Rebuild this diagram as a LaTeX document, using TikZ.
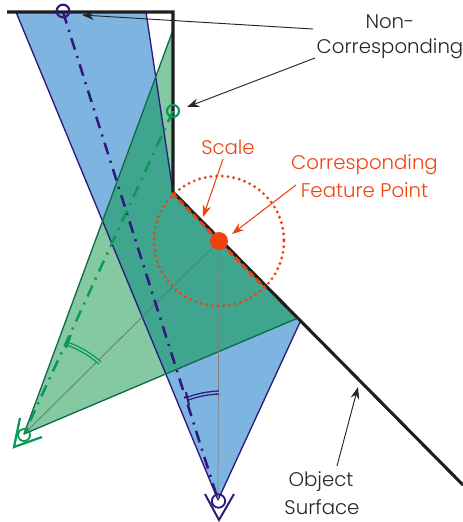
\documentclass[tikz,border=0pt]{standalone}
\usepackage{fontspec}
\setmainfont{Poppins}[UprightFont=* Light]
\usetikzlibrary{arrows.meta}
\definecolor{bluefill}{HTML}{7DB4E0}
\definecolor{bluedark}{HTML}{2E1A7E}
\definecolor{greenfill}{HTML}{85C9A2}
\definecolor{greendark}{HTML}{0B9A55}
\definecolor{greenedge}{HTML}{0F6B4A}
\definecolor{teal}{HTML}{3FA58F}
\definecolor{redor}{HTML}{EE4310}
\definecolor{surf}{HTML}{1E1E1E}
\tikzset{
  lbl/.style={font=\fontsize{14.8pt}{17pt}\selectfont,text=#1,inner sep=0pt,align=center},
  lbl/.default=black!85,
  blk/.style={draw=black!85,line width=0.7pt,-{Stealth[length=9pt,width=6.5pt]}},
  org/.style={draw=redor,line width=0.8pt,-{Stealth[length=9pt,width=6.5pt]}},
  dd/.style={line width=1.9pt,dash pattern=on 9pt off 5pt on 1.6pt off 5pt},
  ring/.style={circle,fill=none,inner sep=0pt,minimum size=#1},
}
\begin{document}
\begin{tikzpicture}[x=0.75pt,y=-0.75pt]
\useasboundingbox (0,0) rectangle (463,522);
% key points
\coordinate (B1) at (16,12);
\coordinate (B2) at (146,12);
\coordinate (S1) at (173,192);
\coordinate (B3) at (301,320);
\coordinate (BA) at (218,500);
\coordinate (G1) at (173,30);
\coordinate (G3) at (298,318);
\coordinate (GA) at (24,434);
\coordinate (FP) at (219,241);
\coordinate (BT) at (63,12);
\coordinate (GT) at (173,111);
% fills
\fill[bluefill] (B1)--(B2)--(S1)--(B3)--(BA)--cycle;
\fill[greenfill] (G1)--(S1)--(G3)--(GA)--cycle;
\begin{scope}
\clip (B1)--(B2)--(S1)--(B3)--(BA)--cycle;
\fill[teal] (G1)--(S1)--(G3)--(GA)--cycle;
\end{scope}
% outlines
\draw[bluedark,line width=1pt,line join=round] (B1)--(B2)--(S1);
\draw[bluedark,line width=1pt,line join=round] (B3)--(BA)--(B1);
\draw[greenedge,line width=1pt,line join=round] (G1)--(GA)--(G3);
% object surface
\draw[surf,line width=2.3pt,miter limit=10] (7,12)--(173,12)--(173,192)--(463,485);
% sight lines
\draw[black!50,line width=0.55pt] (FP)--(BA);
\draw[black!40!greenedge!70!white,line width=0.55pt] (FP)--(GA);
% dash-dot axes
\draw[bluedark,dd] (BT)--(BA);
\draw[greendark,dd] (GT)--(GA);
% angle marks
\draw[bluedark,line width=1pt,double=bluefill,double distance=1.2pt] (187,399) .. controls (197,395) and (208,393) .. (219,392.5);
\draw[bluedark,line width=1.5pt] (186,392)--(189,405);
\draw[greendark,line width=1pt,double=greenfill,double distance=1.2pt] (68,344) .. controls (80,348) and (91,355) .. (100,363);
\draw[greendark,line width=1.5pt] (71,335)--(66,348);
% eye marks
\draw[bluedark,line width=1.5pt] (205,494)--(219,520)--(234,494);
\draw[greendark,line width=1.7pt] (20,418)--(14,447)--(42,437);
% end circles
\node[ring=10pt,draw=bluedark,line width=1.4pt] (eb) at (218.5,501) {};
\node[ring=9pt,draw=greendark,line width=1.4pt] (eg) at (24,435) {};
\node[ring=9.5pt,draw=bluedark,line width=1.6pt] (tb) at (63,11) {};
\node[ring=9pt,draw=greendark,line width=1.6pt] (tg) at (173,111) {};
% scale
\draw[redor,line width=2.1pt,dash pattern=on 5pt off 2.5pt] (172,193)--(265,288);
\draw[redor,line width=2.4pt,dash pattern=on 0pt off 4.3pt,line cap=round] (FP) circle[radius=65];
\node[circle,fill=redor,inner sep=0pt,minimum size=13.5pt] (fp) at (FP) {};
% labels
\node[lbl] (ncA) at (390,22) {Non-};
\node[lbl] (ncB) at (390,49) {Corresponding};
\node[lbl=redor] (sc) at (228,147) {Scale};
\node[lbl=redor] (cfA) at (364.5,165) {Corresponding};
\node[lbl=redor] (cfB) at (364.5,190) {Feature Point};
\node[lbl] (osA) at (321,482) {Object};
\node[lbl] (osB) at (322,507.5) {Surface};
% arrows
\coordinate (t1) at (82,15);
\coordinate (t2) at (187,107);
\coordinate (s1) at (313,29);
\coordinate (s2) at (315,58);
\coordinate (t3) at (203,217);
\coordinate (s3) at (223,159);
\coordinate (t4) at (232,234);
\coordinate (s4) at (296,185);
\coordinate (s5) at (337,466);
\coordinate (t5) at (358,387);
\draw[blk] (s1)--(t1);
\draw[blk] (s2)--(t2);
\draw[org] (s3)--(t3);
\draw[org] (s4)--(t4);
\draw[blk] (s5)--(t5);
\end{tikzpicture}
\end{document}
